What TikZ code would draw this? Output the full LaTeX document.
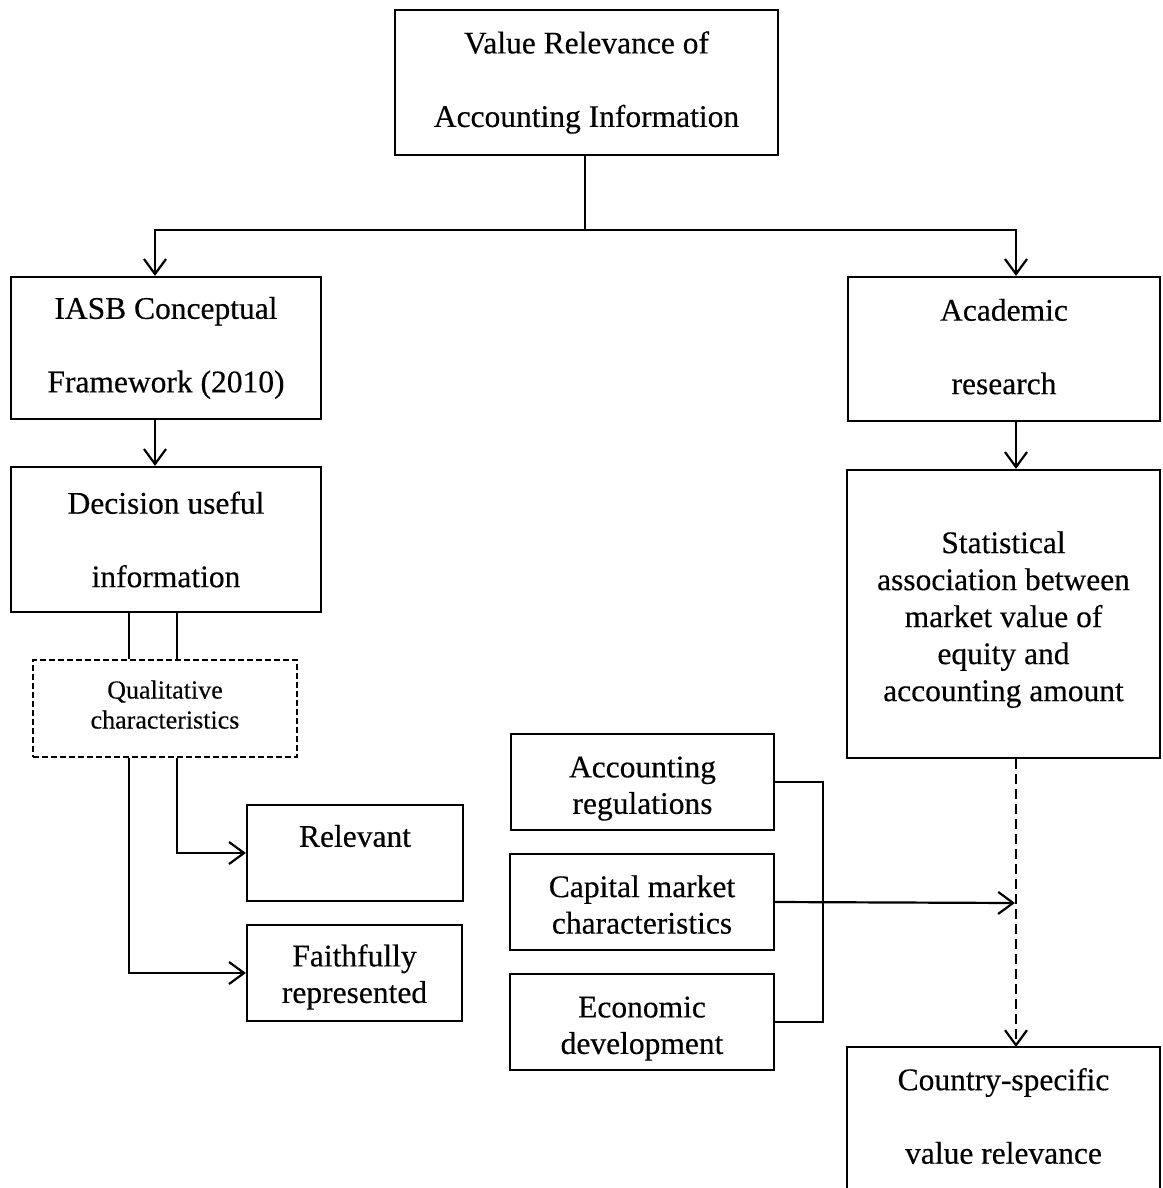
\documentclass[tikz,border=0pt]{standalone}
\usepackage{fontspec}
\setmainfont{Liberation Serif}[FakeBold=0.35]
\usetikzlibrary{arrows.meta}
\tikzset{
  box/.style={draw, line width=2.2pt, inner sep=0pt, align=center},
  dbl/.style={font=\fontsize{31.5}{73.5}\selectfont},
  sgl/.style={font=\fontsize{31.5}{36.5}\selectfont},
  conn/.style={line width=2.2pt},
  arr/.style={conn, -{Straight Barb[length=15pt,width=22pt,line width=2.2pt]}},
  dasharr/.style={arr, dash pattern=on 10pt off 5pt},
  dashbox/.style={box, line width=1.5pt, dash pattern=on 6pt off 3pt}
}
\begin{document}
\begin{tikzpicture}[x=1pt,y=-1pt]
\useasboundingbox (0,0) rectangle (1162,1188);
% boxes
\node[box,dbl,minimum width=383,minimum height=145] (top) at (586.5,82.5) {Value Relevance of\\Accounting Information};
\node[box,dbl,minimum width=310,minimum height=142] (iasb) at (166,348) {IASB Conceptual\\Framework (2010)};
\node[box,dbl,minimum width=312,minimum height=144] (acad) at (1004,349) {Academic\\research\rule[-5pt]{0pt}{5pt}};
\node[box,dbl,minimum width=310,minimum height=145] (dec) at (166,539.5) {Decision useful\\information};
\node[box,font=\fontsize{31.5}{37}\selectfont,minimum width=313,minimum height=288] (stat) at (1003.5,614) {\rule{0pt}{33pt}Statistical\\association between\\market value of\\equity and\\accounting amount};
\node[dashbox,font=\fontsize{26}{30}\selectfont,minimum width=264,minimum height=97] (qual) at (165,708.5) {Qualitative\\characteristics\rule[-8pt]{0pt}{8pt}};
\node[box,sgl,minimum width=216,minimum height=96] (rel) at (355,853) {\rule{0pt}{35pt}Relevant\\[0pt]\strut};
\node[box,sgl,minimum width=215,minimum height=96] (faith) at (354.5,973) {\rule{0pt}{30pt}Faithfully\\represented};
\node[box,sgl,minimum width=263,minimum height=96] (accreg) at (642.5,782) {\rule{0pt}{34pt}Accounting\\regulations};
\node[box,sgl,minimum width=264,minimum height=96] (cap) at (642,902) {\rule{0pt}{27pt}Capital market\\characteristics};
\node[box,sgl,minimum width=264,minimum height=96] (econ) at (642,1022) {\rule{0pt}{34pt}Economic\\development};
\node[inner sep=0pt,minimum width=313,minimum height=160,anchor=north] (country) at (1003.5,1047) {};
\draw[conn] (country.south west) -- (country.north west) -- (country.north east) -- (country.south east);
\node[dbl,align=center] (countrytxt) at (1003.5,1116) {Country-specific\\value relevance};
% coordinates
\coordinate (split) at (585,230);
\coordinate (jl) at (155,230);
\coordinate (jr) at (1016,230);
\coordinate (xa) at (129,0);
\coordinate (xb) at (177,0);
\coordinate (meet) at (1015,903);
% connectors
\draw[conn] (top.south -| split) -- (split);
\draw[arr] (split) -- (jl) -- (jl |- iasb.north);
\draw[arr] (split) -- (jr) -- (jr |- acad.north);
\draw[arr] (iasb.south -| jl) -- (dec.north -| jl);
\draw[arr] (acad.south -| jr) -- (stat.north -| jr);
\draw[conn] (dec.south -| xa) -- (qual.north -| xa);
\draw[conn] (dec.south -| xb) -- (qual.north -| xb);
\draw[arr] (qual.south -| xb) |- (rel.west);
\draw[arr] (qual.south -| xa) |- (faith.west);
\draw[conn] (accreg.east) -- ++(48,0) |- (econ.east);
\draw[arr] (cap.east) -- (meet);
\draw[dasharr] (stat.south -| jr) -- (country.north -| jr);
\end{tikzpicture}
\end{document}
